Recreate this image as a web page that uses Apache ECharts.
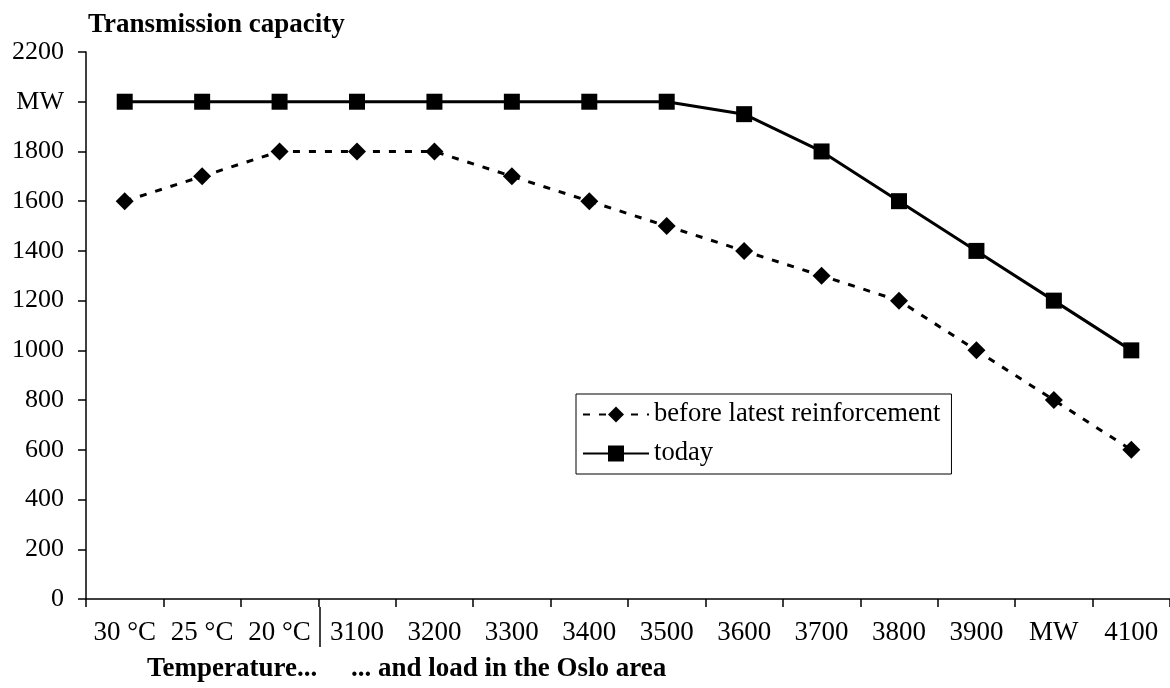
<!DOCTYPE html>
<html>
<head>
<meta charset="utf-8">
<script src="https://cdn.jsdelivr.net/npm/echarts@6/dist/echarts.min.js"></script>
<style>
html,body{margin:0;padding:0;background:#fff;}
#chart{width:1170px;height:688px;}
</style>
</head>
<body>
<div id="chart"></div>
<script>
var categories = ['30 °C', '25 °C', '20 °C', '3100', '3200', '3300', '3400', '3500', '3600', '3700', '3800', '3900', 'MW', '4100'];
var beforeReinforcement = [1600, 1700, 1800, 1800, 1800, 1700, 1600, 1500, 1400, 1300, 1200, 1000, 800, 600];
var today = [2000, 2000, 2000, 2000, 2000, 2000, 2000, 2000, 1950, 1800, 1600, 1400, 1200, 1000];
var yTickLabels = {2000: 'MW'};

var FONT = "'Liberation Serif', 'Times New Roman', serif";
var chart = echarts.init(document.getElementById('chart'));
var option = {
  backgroundColor: '#fff',
  animation: false,
  textStyle: {fontFamily: FONT, color: '#000'},
  title: [
    {text: 'Transmission capacity', left: 83, top: 7,
     textStyle: {fontFamily: FONT, fontWeight: 'bold', fontSize: 27, color: '#000'}},
    {text: 'Temperature...     ... and load in the Oslo area', left: 142, top: 651,
     textStyle: {fontFamily: FONT, fontWeight: 'bold', fontSize: 27, color: '#000'}}
  ],
  grid: {left: 86, top: 52, width: 1092, height: 547, containLabel: false},
  legend: {
    orient: 'vertical', left: 576, top: 394,
    borderColor: '#000', borderWidth: 1,
    padding: [7, 11, 7, 6],
    itemWidth: 66, itemHeight: 20, itemGap: 12,
    textStyle: {fontFamily: FONT, fontSize: 26.6, color: '#000'},
    data: ['before latest reinforcement', 'today']
  },
  xAxis: {
    type: 'category', data: categories, boundaryGap: true,
    axisLine: {lineStyle: {color: '#000', width: 1.5}},
    axisTick: {show: true, length: 8, lineStyle: {color: '#000', width: 1.5}},
    axisLabel: {fontFamily: FONT, fontSize: 27, color: '#000', margin: 20, interval: 0},
    splitLine: {show: false}
  },
  yAxis: {
    type: 'value', min: 0, max: 2200, interval: 200,
    axisLine: {show: true, lineStyle: {color: '#000', width: 1.5}},
    axisTick: {show: true, length: 8, lineStyle: {color: '#000', width: 1.5}},
    axisLabel: {fontFamily: FONT, fontSize: 26, color: '#000', margin: 22,
      formatter: function (v) { return yTickLabels[v] !== undefined ? yTickLabels[v] : String(v); }},
    splitLine: {show: false}
  },
  series: [
    {name: 'before latest reinforcement', type: 'line', data: beforeReinforcement,
     symbol: 'diamond', symbolSize: 18,
     itemStyle: {color: '#000'},
     lineStyle: {color: '#000', width: 3, type: [7, 9]}},
    {name: 'today', type: 'line', data: today,
     symbol: 'rect', symbolSize: 16,
     itemStyle: {color: '#000'},
     lineStyle: {color: '#000', width: 3}}
  ]
};
chart.setOption(option);
// separator between temperature and load categories
var xa = chart.convertToPixel({xAxisIndex: 0}, categories[2]);
var xb = chart.convertToPixel({xAxisIndex: 0}, categories[3]);
var sepX = Math.round((xa + xb) / 2) + 2;
var y0 = chart.convertToPixel({yAxisIndex: 0}, 0);
chart.setOption({
  graphic: [{type: 'line', shape: {x1: sepX, y1: y0 + 8, x2: sepX, y2: y0 + 48},
             style: {stroke: '#000', lineWidth: 1.5}}]
});
</script>
</body>
</html>
